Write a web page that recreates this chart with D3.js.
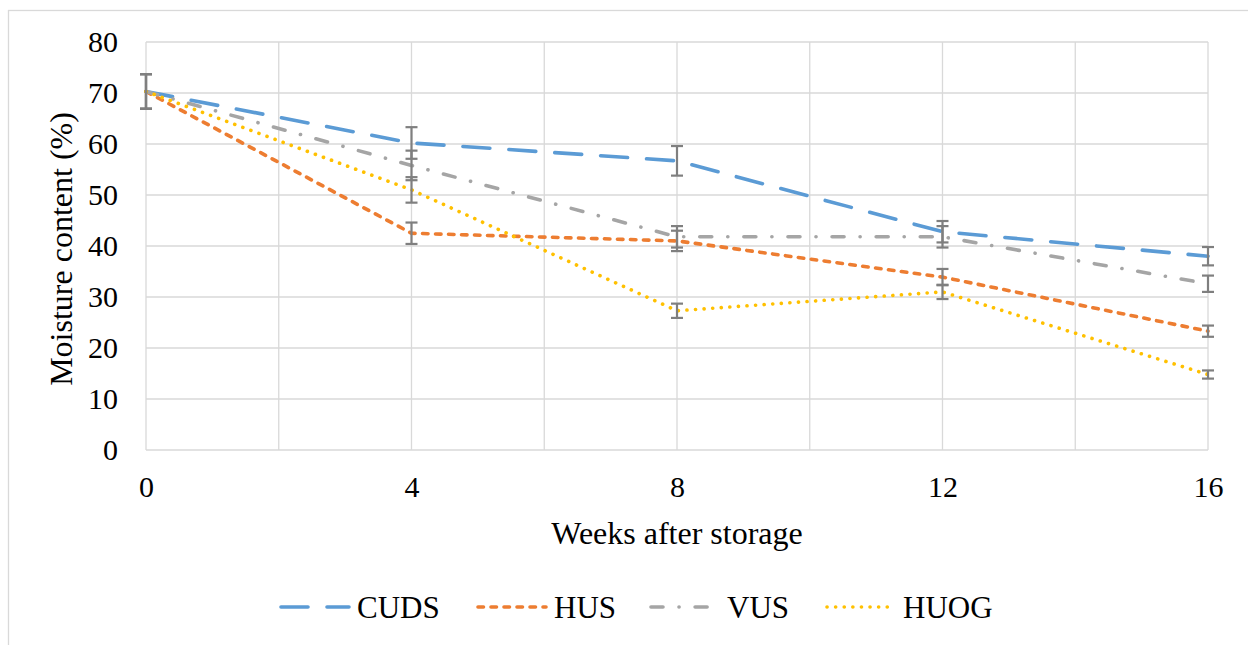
<!DOCTYPE html>
<html lang="en">
<head>
<meta charset="UTF-8">
<title>Moisture content</title>
<script src="https://d3js.org/d3.v7.min.js"></script>
<style>
  body { margin: 0; background: #fff; }
  svg text { font-family: "Liberation Serif", "Times New Roman", serif !important; fill: #000; font-size: 30px; }
  .title { font-size: 32px !important; }
  .legend text { font-size: 31px !important; }
  .grid line { stroke: #d9d9d9; stroke-width: 1.3; }
  .line { fill: none; stroke-width: 3.6; stroke-linecap: round; }
  .err { stroke: #7f7f7f; stroke-width: 2.2; }
</style>
</head>
<body>
<div id="chart"></div>
<script>
// data
const weeks = [0, 4, 8, 12, 16];
const cuds = [70.3, 60.2, 56.7, 42.8, 38.0];
const hus = [70.3, 42.5, 41.0, 33.9, 23.3];
const vus = [70.3, 55.8, 41.8, 41.8, 32.6];
const huog = [70.3, 51.0, 27.3, 31.0, 14.8];
const cudsErr = [3.4, 3.1, 2.9, 2.1, 1.8];
const husErr = [3.4, 2.1, 2.0, 1.6, 1.1];
const vusErr = [3.4, 2.9, 2.1, 2.1, 1.6];
const huogErr = [3.4, 2.5, 1.4, 1.4, 0.8];
const names = ["CUDS", "HUS", "VUS", "HUOG"];
const yTicks = [0, 10, 20, 30, 40, 50, 60, 70, 80];
const xTicks = [0, 4, 8, 12, 16];
const xGrid = [0, 2, 4, 6, 8, 10, 12, 14, 16];

const series = [
  { name: names[0], values: cuds, err: cudsErr, color: "#5b9bd5", dash: "27,19" },
  { name: names[1], values: hus, err: husErr, color: "#ed7d31", dash: "5.5,7.5" },
  { name: names[2], values: vus, err: vusErr, color: "#a5a5a5", dash: "12,16,0.1,16" },
  { name: names[3], values: huog, err: huogErr, color: "#ffc000", dash: "0.1,8.5" }
];

const W = 1248, H = 645;
const margin = { top: 42, left: 146, right: 40, bottom: 195 };
const svg = d3.select("#chart").append("svg")
  .attr("width", W).attr("height", H);

// outer chart border
svg.append("rect")
  .attr("x", 8.5).attr("y", 10.5)
  .attr("width", W + 20).attr("height", H + 20)
  .attr("fill", "none").attr("stroke", "#d9d9d9").attr("stroke-width", 1.3);

const x = d3.scaleLinear().domain([0, 16]).range([margin.left, W - margin.right]);
const y = d3.scaleLinear().domain([0, 80]).range([H - margin.bottom, margin.top]);

// gridlines
const grid = svg.append("g").attr("class", "grid");
grid.selectAll(".h").data(yTicks).join("line")
  .attr("x1", x(0)).attr("x2", x(16))
  .attr("y1", d => y(d)).attr("y2", d => y(d));
grid.selectAll(".v").data(xGrid).join("line")
  .attr("x1", d => x(d)).attr("x2", d => x(d))
  .attr("y1", y(0)).attr("y2", y(80));

// axes (labels only)
const yAxis = svg.append("g")
  .attr("transform", `translate(${x(0)},0)`)
  .call(d3.axisLeft(y).tickValues(yTicks).tickSize(0).tickPadding(28));
yAxis.attr("font-family", null).attr("font-size", null);
yAxis.select(".domain").remove();

const xAxis = svg.append("g")
  .attr("transform", `translate(0,${y(0)})`)
  .call(d3.axisBottom(x).tickValues(xTicks).tickSize(0).tickPadding(26));
xAxis.attr("font-family", null).attr("font-size", null);
xAxis.select(".domain").remove();

// axis titles
svg.append("text")
  .attr("class", "title")
  .attr("x", (x(0) + x(16)) / 2).attr("y", 544)
  .attr("text-anchor", "middle")
  .text("Weeks after storage");
svg.append("text")
  .attr("class", "title")
  .attr("transform", `translate(72,${(y(0) + y(80)) / 2 + 3}) rotate(-90)`)
  .attr("text-anchor", "middle")
  .text("Moisture content (%)");

// lines
const line = d3.line().x((d, i) => x(weeks[i])).y(d => y(d));
series.forEach(s => {
  svg.append("path")
    .attr("class", "line")
    .attr("d", line(s.values))
    .attr("stroke", s.color)
    .attr("stroke-dasharray", s.dash);
});

// error bars
const cap = 6;
series.forEach(s => {
  const g = svg.append("g").attr("class", "err");
  s.values.forEach((v, i) => {
    const cx = x(weeks[i]);
    const lo = y(v - s.err[i]), hi = y(v + s.err[i]);
    g.append("line").attr("x1", cx).attr("x2", cx).attr("y1", lo).attr("y2", hi);
    g.append("line").attr("x1", cx - cap).attr("x2", cx + cap).attr("y1", lo).attr("y2", lo);
    g.append("line").attr("x1", cx - cap).attr("x2", cx + cap).attr("y1", hi).attr("y2", hi);
  });
});

// legend
const legendX = [281, 478, 651, 827];
const legY = 607;
const legend = svg.append("g").attr("class", "legend");
series.forEach((s, i) => {
  const g = legend.append("g").attr("transform", `translate(${legendX[i]},${legY})`);
  g.append("line")
    .attr("class", "line")
    .attr("x1", 0).attr("x2", 68).attr("y1", 0).attr("y2", 0)
    .attr("stroke", s.color)
    .attr("stroke-dasharray", s.dash);
  g.append("text")
    .attr("x", 76).attr("y", 0).attr("dy", "0.35em")
    .text(s.name);
});
</script>
</body>
</html>
